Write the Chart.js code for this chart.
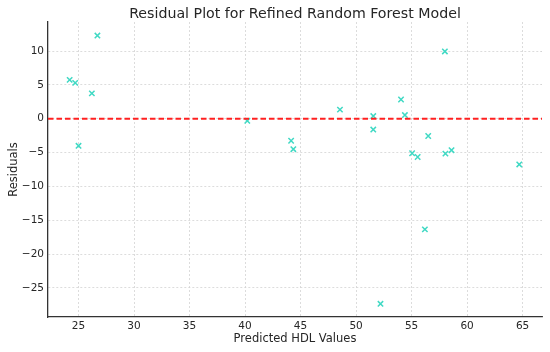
<!DOCTYPE html>
<html>
<head>
<meta charset="utf-8">
<script src="https://cdn.jsdelivr.net/npm/chart.js@4.4.0/dist/chart.umd.min.js"></script>
<style>
  html, body { margin: 0; padding: 0; background: #fff; }
  #wrap { width: 550px; height: 352px; position: relative; }
</style>
</head>
<body>
<div id="wrap"><canvas id="c" width="550" height="352"></canvas></div>
<script>
// Predicted HDL values (x) and residuals (y)
const predicted = [26.7, 24.2, 24.7, 26.2, 25.0, 40.2, 44.15, 44.35, 48.55, 51.55, 51.55, 54.05, 54.4, 55.05, 55.55, 56.5, 58.0, 58.05, 58.6, 64.7, 56.2, 52.2];
const residuals = [12.3, 5.75, 5.3, 3.75, -4.0, -0.3, -3.25, -4.5, 1.35, 0.4, -1.6, 2.85, 0.55, -5.1, -5.65, -2.55, 9.95, -5.15, -4.65, -6.75, -16.35, -27.35];
const xTicks = [25, 30, 35, 40, 45, 50, 55, 60, 65];
const yTicks = [-25, -20, -15, -10, -5, 0, 5, 10];
const xRange = [22.25, 66.75];
const yRange = [-29.3, 14.3];
const titleText = 'Residual Plot for Refined Random Forest Model';

const points = predicted.map((x, i) => ({ x: x, y: residuals[i] }));
const zeroLine = [{ x: xRange[0], y: 0 }, { x: xRange[1], y: 0 }];
const fmt = v => String(v).replace('-', '\u2212');

// Title centred over the plot area (as matplotlib does)
const axesTitle = {
  id: 'axesTitle',
  afterDraw(chart) {
    const { ctx, chartArea } = chart;
    ctx.save();
    ctx.font = 'normal 14.2px "DejaVu Sans"';
    ctx.fillStyle = '#262626';
    ctx.textAlign = 'center';
    ctx.textBaseline = 'alphabetic';
    ctx.fillText(titleText, (chartArea.left + chartArea.right) / 2, 17.5);
    ctx.restore();
  }
};

new Chart(document.getElementById('c'), {
  type: 'scatter',
  data: {
    datasets: [
      {
        type: 'line',
        data: zeroLine,
        borderColor: '#ff2020',
        borderWidth: 1.9,
        borderDash: [5.5, 3],
        pointRadius: 0,
        fill: false,
        order: 0
      },
      {
        data: points,
        pointStyle: 'crossRot',
        pointRadius: 3.8,
        borderColor: '#40d9c4',
        backgroundColor: '#40d9c4',
        pointBorderWidth: 1.5,
        order: 1
      }
    ]
  },
  options: {
    responsive: false,
    animation: false,
    layout: { padding: { left: 0, right: 8, top: 22, bottom: 0 } },
    plugins: {
      legend: { display: false },
      tooltip: { enabled: false },
      title: { display: false }
    },
    scales: {
      x: {
        type: 'linear',
        min: xRange[0],
        max: xRange[1],
        afterBuildTicks: s => { s.ticks = xTicks.map(v => ({ value: v })); },
        afterFit: s => { s.height = 35; },
        ticks: {
          callback: v => fmt(v),
          color: '#262626',
          font: { family: 'DejaVu Sans', size: 10.5 },
          padding: 3,
          maxRotation: 0,
          autoSkip: false
        },
        grid: { color: '#d4d4d4', lineWidth: 0.8, drawTicks: false },
        border: { color: '#333333', width: 1.3, dash: [2, 2] },
        title: {
          display: true,
          text: 'Predicted HDL Values',
          color: '#262626',
          font: { family: 'DejaVu Sans', size: 11.5 },
          padding: { top: 0, bottom: 6 }
        }
      },
      y: {
        type: 'linear',
        min: yRange[0],
        max: yRange[1],
        afterBuildTicks: s => { s.ticks = yTicks.map(v => ({ value: v })); },
        afterFit: s => { s.width = 48; },
        ticks: {
          callback: v => fmt(v),
          color: '#262626',
          font: { family: 'DejaVu Sans', size: 10.5 },
          padding: 4,
          autoSkip: false
        },
        grid: { color: '#d4d4d4', lineWidth: 0.8, drawTicks: false },
        border: { color: '#333333', width: 1.3, dash: [2, 2] },
        title: {
          display: true,
          text: 'Residuals',
          color: '#262626',
          font: { family: 'DejaVu Sans', size: 11.5 },
          padding: { top: 7, bottom: 0 }
        }
      }
    }
  },
  plugins: [axesTitle]
});
</script>
</body>
</html>
